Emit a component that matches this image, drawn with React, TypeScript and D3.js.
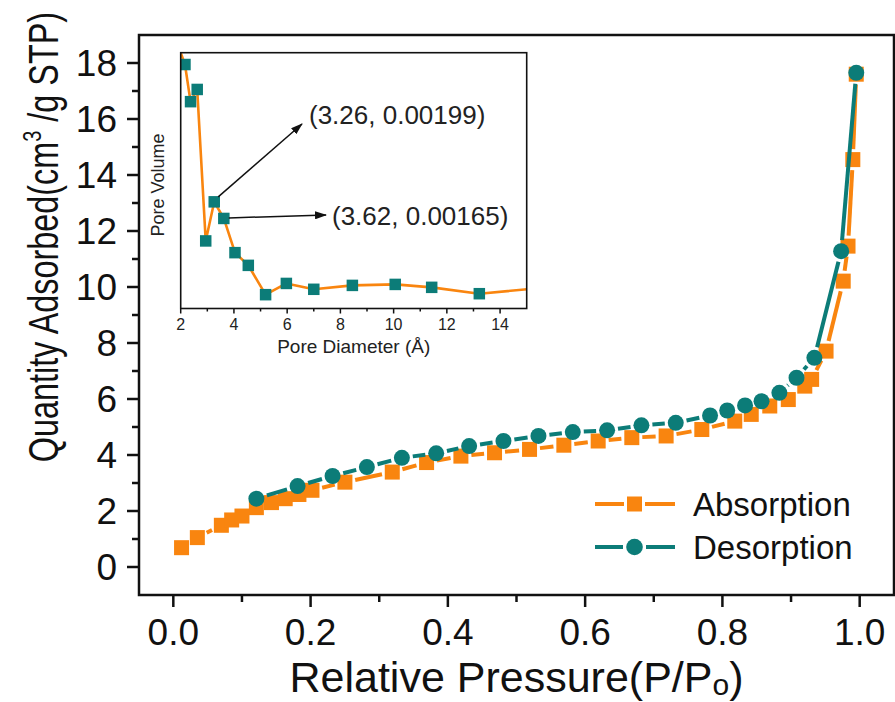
import React from "react";
import * as d3 from "d3";

// ---------- data ----------
const absP = [0.012, 0.035, 0.07, 0.085, 0.1, 0.121, 0.143, 0.163, 0.183, 0.202, 0.25, 0.319, 0.369, 0.419, 0.468, 0.519, 0.569, 0.619, 0.668, 0.718, 0.77, 0.818, 0.842, 0.869, 0.896, 0.92, 0.93, 0.951, 0.976, 0.983, 0.99, 0.995];
const absV = [0.69, 1.05, 1.49, 1.68, 1.82, 2.12, 2.3, 2.44, 2.59, 2.74, 3.03, 3.39, 3.73, 3.96, 4.08, 4.2, 4.35, 4.5, 4.62, 4.68, 4.91, 5.21, 5.45, 5.75, 5.98, 6.46, 6.7, 7.71, 10.21, 11.46, 14.55, 17.6];
const desP = [0.121, 0.181, 0.232, 0.282, 0.333, 0.383, 0.431, 0.481, 0.532, 0.582, 0.632, 0.682, 0.732, 0.782, 0.807, 0.833, 0.857, 0.883, 0.908, 0.934, 0.973, 0.995];
const desV = [2.44, 2.89, 3.25, 3.57, 3.9, 4.06, 4.32, 4.5, 4.68, 4.82, 4.88, 5.06, 5.15, 5.41, 5.59, 5.77, 5.92, 6.22, 6.76, 7.47, 11.28, 17.65];

const poreD = [1.9, 2.16, 2.37, 2.62, 2.94, 3.26, 3.62, 4.04, 4.54, 5.19, 5.97, 7.0, 8.45, 10.06, 11.43, 13.22, 15.5];
const poreV = [0.00519, 0.0048, 0.00404, 0.00429, 0.00119, 0.00199, 0.00165, 0.00095, 0.00069, 0.00009, 0.00032, 0.0002, 0.00028, 0.0003, 0.00024, 0.00011, 0.000225];

const xMajor = [0, 0.2, 0.4, 0.6, 0.8, 1.0];
const xMinor = [0.1, 0.3, 0.5, 0.7, 0.9];
const yMajor = [0, 2, 4, 6, 8, 10, 12, 14, 16, 18];
const yMinor = [1, 3, 5, 7, 9, 11, 13, 15, 17];
const insetMajor = [2, 4, 6, 8, 10, 12, 14];
const insetMinor = [3, 5, 7, 9, 11, 13];

const annotations = [
  { d: 3.26, v: 0.00199, label: "(3.26, 0.00199)" },
  { d: 3.62, v: 0.00165, label: "(3.62, 0.00165)" },
];

// ---------- style ----------
const ORANGE = "#f9850f";
const TEAL = "#0c7c78";
const FONT = "'Liberation Sans', Arial, Helvetica, sans-serif";

const W = 895;
const H = 702;

function gapped(pts: [number, number][], gap: number) {
  const segs: [number, number, number, number][] = [];
  for (let i = 0; i < pts.length - 1; i++) {
    const [x1, y1] = pts[i];
    const [x2, y2] = pts[i + 1];
    const dx = x2 - x1, dy = y2 - y1;
    const len = Math.hypot(dx, dy);
    if (len <= 2 * gap + 0.5) continue;
    const ux = dx / len, uy = dy / len;
    segs.push([x1 + ux * gap, y1 + uy * gap, x2 - ux * gap, y2 - uy * gap]);
  }
  return segs;
}

export default function App() {
  const x = d3.scaleLinear().domain([-0.05, 1.05]).range([139, 894]);
  const y = d3.scaleLinear().domain([-1, 19]).range([595, 35]);
  const ix = d3.scaleLinear().domain([2, 15]).range([180.7, 526.7]);
  const iy = d3.scaleLinear().domain([-0.000193, 0.005042]).range([308.5, 52.7]);

  const absPts = absP.map((p, i) => [x(p), y(absV[i])] as [number, number]);
  const desPts = desP.map((p, i) => [x(p), y(desV[i])] as [number, number]);
  const absSegs = gapped(absPts, 10.5);
  const desSegs = gapped(desPts, 11);

  const insetLine = d3
    .line<number>()
    .x((_, i) => ix(poreD[i]))
    .y((v) => iy(v))(poreV) as string;

  const [x0, x1] = x.range();
  const [y0, y1] = y.range();
  const [ix0, ix1] = ix.range();
  const [iy0, iy1] = iy.range();

  const sq = 15;
  const isq = 11.5;

  return (
    <div style={{ position: "absolute", left: 0, top: 0 }}>
      <svg width={W} height={H} style={{ display: "block", background: "#fff" }} fontFamily={FONT}>
        <defs>
          <clipPath id="insetClip">
            <rect x={ix0} y={iy1} width={ix1 - ix0} height={iy0 - iy1} />
          </clipPath>
          <marker id="arrowB" viewBox="0 0 12 8" refX="11" refY="4" markerWidth="12" markerHeight="8" orient="auto" markerUnits="userSpaceOnUse">
            <path d="M0,0 L12,4 L0,8 z" fill="#111" />
          </marker>
        </defs>

        {/* main data lines */}
        {absSegs.map((s, i) => (
          <line key={"al" + i} x1={s[0]} y1={s[1]} x2={s[2]} y2={s[3]} stroke={ORANGE} strokeWidth={4} />
        ))}
        {absPts.map((p, i) => (
          <rect key={"am" + i} x={p[0] - sq / 2} y={p[1] - sq / 2} width={sq} height={sq} fill={ORANGE} />
        ))}
        {desSegs.map((s, i) => (
          <line key={"dl" + i} x1={s[0]} y1={s[1]} x2={s[2]} y2={s[3]} stroke={TEAL} strokeWidth={4} />
        ))}
        {desPts.map((p, i) => (
          <circle key={"dm" + i} cx={p[0]} cy={p[1]} r={8} fill={TEAL} />
        ))}

        {/* main frame */}
        <rect x={x0} y={y1} width={x1 - x0} height={y0 - y1} fill="none" stroke="#111" strokeWidth={2.5} />
        {xMajor.map((t) => (
          <g key={"xM" + t}>
            <line x1={x(t)} x2={x(t)} y1={y0} y2={y0 + 12} stroke="#111" strokeWidth={2.5} />
            <text x={x(t)} y={645} textAnchor="middle" fontSize={37} fill="#111">
              {d3.format(".1f")(t)}
            </text>
          </g>
        ))}
        {xMinor.map((t) => (
          <line key={"xm" + t} x1={x(t)} x2={x(t)} y1={y0} y2={y0 + 7} stroke="#111" strokeWidth={2.5} />
        ))}
        {yMajor.map((t) => (
          <g key={"yM" + t}>
            <line x1={x0 - 12} x2={x0} y1={y(t)} y2={y(t)} stroke="#111" strokeWidth={2.5} />
            <text x={117} y={y(t) + 13} textAnchor="end" fontSize={37} fill="#111">
              {t}
            </text>
          </g>
        ))}
        {yMinor.map((t) => (
          <line key={"ym" + t} x1={x0 - 7} x2={x0} y1={y(t)} y2={y(t)} stroke="#111" strokeWidth={2.5} />
        ))}

        {/* axis titles */}
        <text x={(x0 + x1) / 2} y={692} textAnchor="middle" fontSize={43} fill="#111">
          Relative Pressure(P/P<tspan fontSize={30} dy={3}>o</tspan>
          <tspan dy={-3}>)</tspan>
        </text>
        <text
          transform={`translate(58,237) rotate(-90) scale(0.771,1)`}
          textAnchor="middle"
          fontSize={42}
          fill="#111"
        >
          Quantity Adsorbed(cm<tspan fontSize={26} dy={-17}>3</tspan>
          <tspan dy={17}> /g STP)</tspan>
        </text>

        {/* legend */}
        <g>
          <line x1={595} x2={624} y1={504} y2={504} stroke={ORANGE} strokeWidth={4} />
          <line x1={645} x2={675} y1={504} y2={504} stroke={ORANGE} strokeWidth={4} />
          <rect x={634.5 - 7.5} y={504 - 7.5} width={15} height={15} fill={ORANGE} />
          <text x={693} y={516} fontSize={33} fill="#111">Absorption</text>
          <line x1={595} x2={623} y1={547} y2={547} stroke={TEAL} strokeWidth={4} />
          <line x1={646} x2={675} y1={547} y2={547} stroke={TEAL} strokeWidth={4} />
          <circle cx={634.5} cy={547} r={8.3} fill={TEAL} />
          <text x={693} y={559} fontSize={33} fill="#111">Desorption</text>
        </g>

        {/* inset */}
        <rect x={ix0} y={iy1} width={ix1 - ix0} height={iy0 - iy1} fill="#fff" />
        <g clipPath="url(#insetClip)">
          <path d={insetLine} fill="none" stroke={ORANGE} strokeWidth={2.6} strokeLinejoin="round" />
          {poreD.map((d, i) => (
            <rect key={"im" + i} x={ix(d) - isq / 2} y={iy(poreV[i]) - isq / 2} width={isq} height={isq} fill={TEAL} />
          ))}
        </g>
        <rect x={ix0} y={iy1} width={ix1 - ix0} height={iy0 - iy1} fill="none" stroke="#111" strokeWidth={1.6} />
        {insetMajor.map((t) => (
          <g key={"iM" + t}>
            <line x1={ix(t)} x2={ix(t)} y1={iy0} y2={iy0 + 5} stroke="#111" strokeWidth={1.5} />
            <text x={ix(t)} y={330} textAnchor="middle" fontSize={16} fill="#222">
              {t}
            </text>
          </g>
        ))}
        {insetMinor.map((t) => (
          <line key={"im2" + t} x1={ix(t)} x2={ix(t)} y1={iy0} y2={iy0 + 3} stroke="#111" strokeWidth={1.5} />
        ))}
        <text x={(ix0 + ix1) / 2} y={353} textAnchor="middle" fontSize={19} fill="#222">
          Pore Diameter (Å)
        </text>
        <text transform={`translate(164,185) rotate(-90)`} textAnchor="middle" fontSize={18} fill="#222">
          Pore Volume
        </text>

        {/* annotations */}
        <line x1={ix(annotations[0].d) + 4} y1={iy(annotations[0].v) - 5} x2={302} y2={124} stroke="#111" strokeWidth={1.5} markerEnd="url(#arrowB)" />
        <text x={309} y={124} fontSize={26} fill="#222">{annotations[0].label}</text>
        <line x1={ix(annotations[1].d) + 5} y1={iy(annotations[1].v) - 0.5} x2={326} y2={215} stroke="#111" strokeWidth={1.5} markerEnd="url(#arrowB)" />
        <text x={332} y={225} fontSize={26} fill="#222">{annotations[1].label}</text>
      </svg>
    </div>
  );
}
